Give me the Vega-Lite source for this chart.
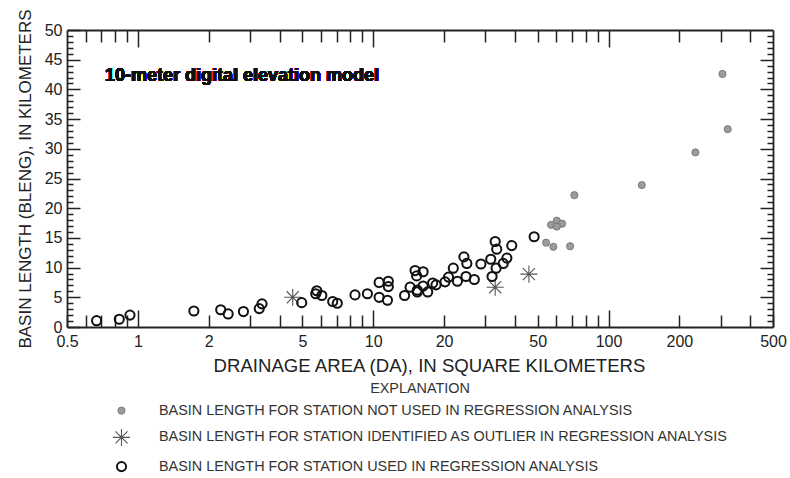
{
  "$schema": "https://vega.github.io/schema/vega-lite/v6.json",
  "width": 706,
  "height": 297,
  "autosize": {"type": "none"},
  "padding": {"left": 67, "top": 30, "right": 17, "bottom": 151},
  "background": "white",
  "config": {
    "view": {"stroke": null},
    "font": "Liberation Sans",
    "axis": {
      "grid": false,
      "domainColor": "#222222",
      "domainWidth": 1.8,
      "tickColor": "#222222",
      "tickWidth": 1.5,
      "labelColor": "#222222",
      "labelFont": "Liberation Sans",
      "labelFontSize": 16,
      "titleColor": "#222222",
      "titleFont": "Liberation Sans",
      "titleFontWeight": "normal",
      "labelOverlap": false,
      "labelFlush": false
    }
  },
  "data": {
    "values": [
      {"DA": 305, "BLENG": 42.6, "group": "BASIN LENGTH FOR STATION NOT USED IN REGRESSION ANALYSIS"},
      {"DA": 321, "BLENG": 33.3, "group": "BASIN LENGTH FOR STATION NOT USED IN REGRESSION ANALYSIS"},
      {"DA": 234, "BLENG": 29.4, "group": "BASIN LENGTH FOR STATION NOT USED IN REGRESSION ANALYSIS"},
      {"DA": 138.5, "BLENG": 23.9, "group": "BASIN LENGTH FOR STATION NOT USED IN REGRESSION ANALYSIS"},
      {"DA": 71.6, "BLENG": 22.2, "group": "BASIN LENGTH FOR STATION NOT USED IN REGRESSION ANALYSIS"},
      {"DA": 57, "BLENG": 17.2, "group": "BASIN LENGTH FOR STATION NOT USED IN REGRESSION ANALYSIS"},
      {"DA": 60.3, "BLENG": 17.9, "group": "BASIN LENGTH FOR STATION NOT USED IN REGRESSION ANALYSIS"},
      {"DA": 63.5, "BLENG": 17.4, "group": "BASIN LENGTH FOR STATION NOT USED IN REGRESSION ANALYSIS"},
      {"DA": 60.3, "BLENG": 16.9, "group": "BASIN LENGTH FOR STATION NOT USED IN REGRESSION ANALYSIS"},
      {"DA": 54.3, "BLENG": 14.2, "group": "BASIN LENGTH FOR STATION NOT USED IN REGRESSION ANALYSIS"},
      {"DA": 58.3, "BLENG": 13.5, "group": "BASIN LENGTH FOR STATION NOT USED IN REGRESSION ANALYSIS"},
      {"DA": 68.7, "BLENG": 13.6, "group": "BASIN LENGTH FOR STATION NOT USED IN REGRESSION ANALYSIS"},
      {"DA": 4.55, "BLENG": 5.0, "group": "BASIN LENGTH FOR STATION IDENTIFIED AS OUTLIER IN REGRESSION ANALYSIS"},
      {"DA": 33, "BLENG": 6.7, "group": "BASIN LENGTH FOR STATION IDENTIFIED AS OUTLIER IN REGRESSION ANALYSIS"},
      {"DA": 45.9, "BLENG": 8.9, "group": "BASIN LENGTH FOR STATION IDENTIFIED AS OUTLIER IN REGRESSION ANALYSIS"},
      {"DA": 0.668, "BLENG": 1.06, "group": "BASIN LENGTH FOR STATION USED IN REGRESSION ANALYSIS"},
      {"DA": 0.834, "BLENG": 1.3, "group": "BASIN LENGTH FOR STATION USED IN REGRESSION ANALYSIS"},
      {"DA": 0.926, "BLENG": 2.0, "group": "BASIN LENGTH FOR STATION USED IN REGRESSION ANALYSIS"},
      {"DA": 1.73, "BLENG": 2.7, "group": "BASIN LENGTH FOR STATION USED IN REGRESSION ANALYSIS"},
      {"DA": 2.25, "BLENG": 2.9, "group": "BASIN LENGTH FOR STATION USED IN REGRESSION ANALYSIS"},
      {"DA": 2.42, "BLENG": 2.2, "group": "BASIN LENGTH FOR STATION USED IN REGRESSION ANALYSIS"},
      {"DA": 2.81, "BLENG": 2.6, "group": "BASIN LENGTH FOR STATION USED IN REGRESSION ANALYSIS"},
      {"DA": 3.28, "BLENG": 3.1, "group": "BASIN LENGTH FOR STATION USED IN REGRESSION ANALYSIS"},
      {"DA": 3.37, "BLENG": 3.9, "group": "BASIN LENGTH FOR STATION USED IN REGRESSION ANALYSIS"},
      {"DA": 4.97, "BLENG": 4.1, "group": "BASIN LENGTH FOR STATION USED IN REGRESSION ANALYSIS"},
      {"DA": 5.76, "BLENG": 6.1, "group": "BASIN LENGTH FOR STATION USED IN REGRESSION ANALYSIS"},
      {"DA": 5.7, "BLENG": 5.6, "group": "BASIN LENGTH FOR STATION USED IN REGRESSION ANALYSIS"},
      {"DA": 6.05, "BLENG": 5.3, "group": "BASIN LENGTH FOR STATION USED IN REGRESSION ANALYSIS"},
      {"DA": 6.73, "BLENG": 4.3, "group": "BASIN LENGTH FOR STATION USED IN REGRESSION ANALYSIS"},
      {"DA": 7.04, "BLENG": 4.0, "group": "BASIN LENGTH FOR STATION USED IN REGRESSION ANALYSIS"},
      {"DA": 8.37, "BLENG": 5.4, "group": "BASIN LENGTH FOR STATION USED IN REGRESSION ANALYSIS"},
      {"DA": 9.45, "BLENG": 5.6, "group": "BASIN LENGTH FOR STATION USED IN REGRESSION ANALYSIS"},
      {"DA": 10.6, "BLENG": 7.5, "group": "BASIN LENGTH FOR STATION USED IN REGRESSION ANALYSIS"},
      {"DA": 10.6, "BLENG": 5.0, "group": "BASIN LENGTH FOR STATION USED IN REGRESSION ANALYSIS"},
      {"DA": 11.6, "BLENG": 7.7, "group": "BASIN LENGTH FOR STATION USED IN REGRESSION ANALYSIS"},
      {"DA": 11.6, "BLENG": 6.8, "group": "BASIN LENGTH FOR STATION USED IN REGRESSION ANALYSIS"},
      {"DA": 11.5, "BLENG": 4.5, "group": "BASIN LENGTH FOR STATION USED IN REGRESSION ANALYSIS"},
      {"DA": 13.6, "BLENG": 5.3, "group": "BASIN LENGTH FOR STATION USED IN REGRESSION ANALYSIS"},
      {"DA": 14.35, "BLENG": 6.7, "group": "BASIN LENGTH FOR STATION USED IN REGRESSION ANALYSIS"},
      {"DA": 15.07, "BLENG": 9.5, "group": "BASIN LENGTH FOR STATION USED IN REGRESSION ANALYSIS"},
      {"DA": 15.3, "BLENG": 8.6, "group": "BASIN LENGTH FOR STATION USED IN REGRESSION ANALYSIS"},
      {"DA": 16.3, "BLENG": 9.3, "group": "BASIN LENGTH FOR STATION USED IN REGRESSION ANALYSIS"},
      {"DA": 16.3, "BLENG": 6.9, "group": "BASIN LENGTH FOR STATION USED IN REGRESSION ANALYSIS"},
      {"DA": 15.4, "BLENG": 6.2, "group": "BASIN LENGTH FOR STATION USED IN REGRESSION ANALYSIS"},
      {"DA": 15.4, "BLENG": 5.9, "group": "BASIN LENGTH FOR STATION USED IN REGRESSION ANALYSIS"},
      {"DA": 17.05, "BLENG": 5.9, "group": "BASIN LENGTH FOR STATION USED IN REGRESSION ANALYSIS"},
      {"DA": 17.9, "BLENG": 7.4, "group": "BASIN LENGTH FOR STATION USED IN REGRESSION ANALYSIS"},
      {"DA": 18.5, "BLENG": 7.1, "group": "BASIN LENGTH FOR STATION USED IN REGRESSION ANALYSIS"},
      {"DA": 20.2, "BLENG": 7.6, "group": "BASIN LENGTH FOR STATION USED IN REGRESSION ANALYSIS"},
      {"DA": 20.9, "BLENG": 8.4, "group": "BASIN LENGTH FOR STATION USED IN REGRESSION ANALYSIS"},
      {"DA": 21.9, "BLENG": 9.9, "group": "BASIN LENGTH FOR STATION USED IN REGRESSION ANALYSIS"},
      {"DA": 22.8, "BLENG": 7.7, "group": "BASIN LENGTH FOR STATION USED IN REGRESSION ANALYSIS"},
      {"DA": 24.3, "BLENG": 11.8, "group": "BASIN LENGTH FOR STATION USED IN REGRESSION ANALYSIS"},
      {"DA": 25.0, "BLENG": 10.7, "group": "BASIN LENGTH FOR STATION USED IN REGRESSION ANALYSIS"},
      {"DA": 24.8, "BLENG": 8.5, "group": "BASIN LENGTH FOR STATION USED IN REGRESSION ANALYSIS"},
      {"DA": 26.9, "BLENG": 8.0, "group": "BASIN LENGTH FOR STATION USED IN REGRESSION ANALYSIS"},
      {"DA": 28.7, "BLENG": 10.6, "group": "BASIN LENGTH FOR STATION USED IN REGRESSION ANALYSIS"},
      {"DA": 31.6, "BLENG": 11.4, "group": "BASIN LENGTH FOR STATION USED IN REGRESSION ANALYSIS"},
      {"DA": 33, "BLENG": 14.4, "group": "BASIN LENGTH FOR STATION USED IN REGRESSION ANALYSIS"},
      {"DA": 33.5, "BLENG": 13.1, "group": "BASIN LENGTH FOR STATION USED IN REGRESSION ANALYSIS"},
      {"DA": 33.3, "BLENG": 9.9, "group": "BASIN LENGTH FOR STATION USED IN REGRESSION ANALYSIS"},
      {"DA": 32, "BLENG": 8.5, "group": "BASIN LENGTH FOR STATION USED IN REGRESSION ANALYSIS"},
      {"DA": 35.7, "BLENG": 10.7, "group": "BASIN LENGTH FOR STATION USED IN REGRESSION ANALYSIS"},
      {"DA": 37.0, "BLENG": 11.6, "group": "BASIN LENGTH FOR STATION USED IN REGRESSION ANALYSIS"},
      {"DA": 38.8, "BLENG": 13.7, "group": "BASIN LENGTH FOR STATION USED IN REGRESSION ANALYSIS"},
      {"DA": 48.3, "BLENG": 15.2, "group": "BASIN LENGTH FOR STATION USED IN REGRESSION ANALYSIS"}
    ]
  },
  "layer": [
    {
      "mark": {"type": "point", "opacity": 1},
      "encoding": {
        "x": {
          "field": "DA",
          "type": "quantitative",
          "scale": {"type": "log", "domain": [0.5, 500], "nice": false},
          "axis": {
            "orient": "bottom",
            "title": "DRAINAGE AREA (DA), IN SQUARE KILOMETERS",
            "titleFontSize": 18.6,
            "titlePadding": 7,
            "titleX": 362,
            "values": [0.5, 0.6, 0.7, 0.8, 0.9, 1, 2, 3, 4, 5, 6, 7, 8, 9, 10, 20, 30, 40, 50, 60, 70, 80, 90, 100, 200, 300, 400, 500],
            "format": "~g",
            "labelExpr": "indexof([0.5, 1, 2, 5, 10, 20, 50, 100, 200, 500], datum.value) >= 0 ? datum.label : ''",
            "tickSize": -17,
            "tickDash": {"condition": {"test": "datum.value == 1 || datum.value == 10 || datum.value == 100", "value": [17, 0]}, "value": [12, 40]},
            "labelPadding": 23
          }
        },
        "y": {
          "field": "BLENG",
          "type": "quantitative",
          "scale": {"domain": [0, 50], "nice": false, "zero": true},
          "axis": {
            "orient": "left",
            "title": "BASIN LENGTH (BLENG), IN KILOMETERS",
            "titleFontSize": 17,
            "titlePadding": 10,
            "values": [0, 1, 2, 3, 4, 5, 6, 7, 8, 9, 10, 11, 12, 13, 14, 15, 16, 17, 18, 19, 20, 21, 22, 23, 24, 25, 26, 27, 28, 29, 30, 31, 32, 33, 34, 35, 36, 37, 38, 39, 40, 41, 42, 43, 44, 45, 46, 47, 48, 49, 50],
            "labelExpr": "datum.value % 5 == 0 ? datum.label : ''",
            "tickSize": -13,
            "tickDash": {"condition": {"test": "datum.value % 5 == 0", "value": [13, 0]}, "value": [6, 40]},
            "labelPadding": 18
          }
        },
        "shape": {
          "field": "group",
          "type": "nominal",
          "scale": {
            "domain": ["BASIN LENGTH FOR STATION NOT USED IN REGRESSION ANALYSIS", "BASIN LENGTH FOR STATION IDENTIFIED AS OUTLIER IN REGRESSION ANALYSIS", "BASIN LENGTH FOR STATION USED IN REGRESSION ANALYSIS"],
            "range": ["circle", "M-1,0L1,0M0,-1L0,1M-0.71,-0.71L0.71,0.71M-0.71,0.71L0.71,-0.71", "circle"]
          },
          "legend": {
            "title": "EXPLANATION",
            "orient": "none",
            "legendX": 45,
            "legendY": 352,
            "direction": "vertical",
            "titleAnchor": "middle",
            "titleFont": "Liberation Sans",
            "titleFontSize": 14.4,
            "titleFontWeight": "normal",
            "titleColor": "#333333",
            "titlePadding": 7,
            "labelFont": "Liberation Sans",
            "labelFontSize": 14.4,
            "labelColor": "#333333",
            "labelLimit": 0,
            "labelOffset": 28,
            "rowPadding": 8.5
          }
        },
        "fill": {
          "field": "group",
          "type": "nominal",
          "scale": {
            "domain": ["BASIN LENGTH FOR STATION NOT USED IN REGRESSION ANALYSIS", "BASIN LENGTH FOR STATION IDENTIFIED AS OUTLIER IN REGRESSION ANALYSIS", "BASIN LENGTH FOR STATION USED IN REGRESSION ANALYSIS"],
            "range": ["#9b9b9b", "transparent", "transparent"]
          }
        },
        "stroke": {
          "field": "group",
          "type": "nominal",
          "scale": {
            "domain": ["BASIN LENGTH FOR STATION NOT USED IN REGRESSION ANALYSIS", "BASIN LENGTH FOR STATION IDENTIFIED AS OUTLIER IN REGRESSION ANALYSIS", "BASIN LENGTH FOR STATION USED IN REGRESSION ANALYSIS"],
            "range": ["#6f6f6f", "#555555", "#111111"]
          }
        },
        "size": {
          "field": "group",
          "type": "nominal",
          "scale": {
            "type": "ordinal",
            "domain": ["BASIN LENGTH FOR STATION NOT USED IN REGRESSION ANALYSIS", "BASIN LENGTH FOR STATION IDENTIFIED AS OUTLIER IN REGRESSION ANALYSIS", "BASIN LENGTH FOR STATION USED IN REGRESSION ANALYSIS"],
            "range": [52, 290, 84]
          }
        },
        "strokeWidth": {
          "field": "group",
          "type": "nominal",
          "scale": {
            "type": "ordinal",
            "domain": ["BASIN LENGTH FOR STATION NOT USED IN REGRESSION ANALYSIS", "BASIN LENGTH FOR STATION IDENTIFIED AS OUTLIER IN REGRESSION ANALYSIS", "BASIN LENGTH FOR STATION USED IN REGRESSION ANALYSIS"],
            "range": [0.8, 1.1, 2]
          }
        }
      }
    },
    {
      "mark": {"type": "text", "text": "10-meter digital elevation model", "font": "Liberation Sans", "fontWeight": 700, "fontSize": 18, "align": "left", "baseline": "middle", "fill": "#111111"},
      "encoding": {
        "x": {
          "datum": 0.725,
          "type": "quantitative",
          "axis": {
            "orient": "top",
            "title": null,
            "labels": false,
            "values": [0.6, 0.7, 0.8, 0.9, 1, 2, 3, 4, 5, 6, 7, 8, 9, 10, 20, 30, 40, 50, 60, 70, 80, 90, 100, 200, 300, 400],
            "tickSize": -17,
            "tickDash": {"condition": {"test": "datum.value == 1 || datum.value == 10 || datum.value == 100", "value": [17, 0]}, "value": [12, 40]}
          }
        },
        "y": {
          "datum": 42.3,
          "type": "quantitative",
          "axis": {
            "orient": "right",
            "title": null,
            "labels": false,
            "values": [1, 2, 3, 4, 5, 6, 7, 8, 9, 10, 11, 12, 13, 14, 15, 16, 17, 18, 19, 20, 21, 22, 23, 24, 25, 26, 27, 28, 29, 30, 31, 32, 33, 34, 35, 36, 37, 38, 39, 40, 41, 42, 43, 44, 45, 46, 47, 48, 49],
            "tickSize": -13,
            "tickDash": {"condition": {"test": "datum.value % 5 == 0", "value": [13, 0]}, "value": [6, 40]}
          }
        }
      }
    }
  ],
  "resolve": {"axis": {"x": "independent", "y": "independent"}}
}
